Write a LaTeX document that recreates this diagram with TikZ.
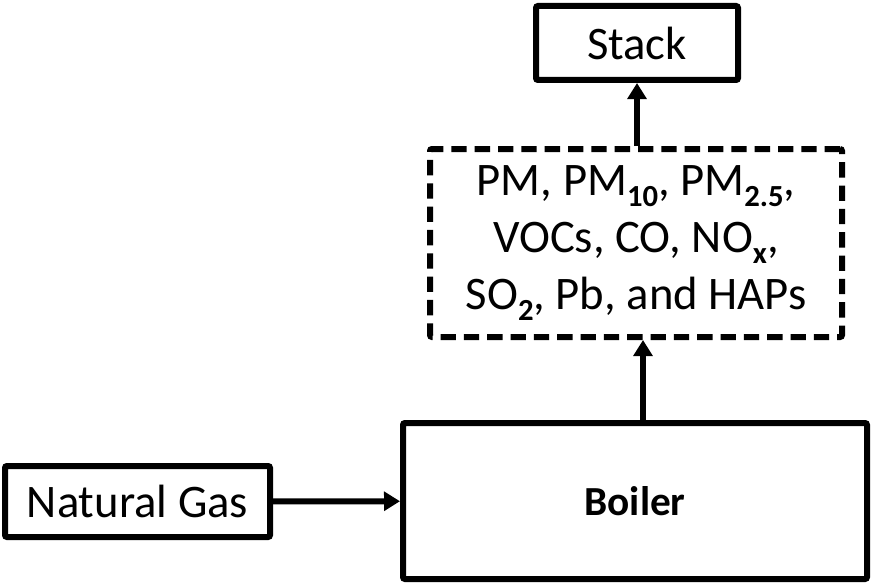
\documentclass[tikz,border=0pt]{standalone}
\usepackage{fontspec}
\setmainfont{Carlito}
\usetikzlibrary{arrows.meta}

% bold, lowered subscript
\newcommand{\lowsub}[1]{\raisebox{-0.24em}{\fontsize{23}{23}\selectfont\bfseries #1}}

\begin{document}
\begin{tikzpicture}[x=0.75pt, y=-0.75pt,
    % Define the box and arrow styles
    block/.style={draw, line width=4.5pt, rounded corners=1.5pt, inner sep=0pt,
        align=center, font=\fontsize{35}{42.5}\selectfont},
    dashblock/.style={block, dash pattern=on 11.5pt off 6pt},
    flow/.style={line width=4.5pt, -{Triangle[length=12pt, width=14pt]}}
]
\useasboundingbox (0,0) rectangle (874,585);

% Define the boxes
\node[block, minimum width=151.5pt, minimum height=55.5pt] (stack) at (637,43) {Stack};
\node[dashblock, minimum width=309pt, minimum height=141pt] (emis) at (636,243)
    {PM, PM\lowsub{10}, PM\lowsub{2.5},\\
     VOCs, CO, NO\lowsub{x},\\
     SO\lowsub{2}, Pb, and HAPs};
\node[block, minimum width=348pt, minimum height=117pt,
    font=\fontsize{31}{36}\selectfont\bfseries] (boiler) at (635,501) {Boiler};
\node[block, minimum width=198.75pt, minimum height=53.25pt] (gas) at (137.5,501.5) {Natural Gas};

% Helper point for the boiler outlet
\coordinate (out) at ([xshift=6pt]boiler.north);

% Draw the flow arrows
\draw[flow] (gas) -- (boiler);
\draw[flow] (out) -- (out |- emis.south);
\draw[flow] (emis.north -| stack) -- (stack.south);

\end{tikzpicture}
\end{document}
